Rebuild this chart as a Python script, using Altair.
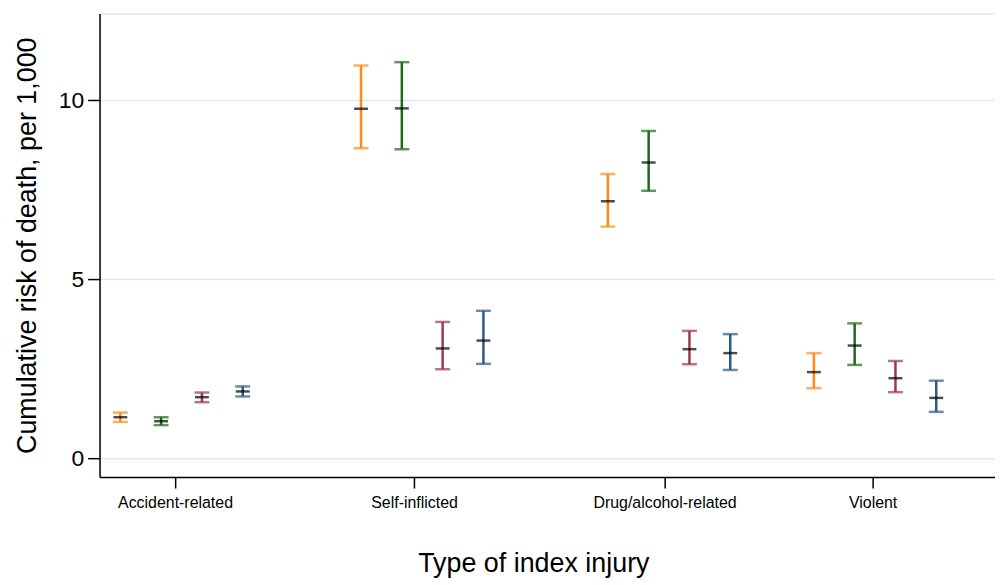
import altair as alt
import pandas as pd

# ---- data ----
groups = ["Accident-related", "Self-inflicted", "Drug/alcohol-related", "Violent"]
group_start = [1.0, 6.9, 12.95, 18.0]          # x position of first series in each group
group_tick = [2.34, 8.20, 14.34, 19.44]         # x positions of the category tick labels
series = ["Series 1", "Series 2", "Series 3", "Series 4"]
series_offset = [0, 1, 2, 3]
colors = ["#FF8A14", "#1B6B1B", "#9B3A4C", "#2C5A8A"]

est = [
    [1.15, 1.04, 1.71, 1.87],
    [9.76, 9.77, 3.07, 3.29],
    [7.18, 8.26, 3.05, 2.94],
    [2.41, 3.15, 2.24, 1.69],
]
lo = [
    [1.02, 0.93, 1.57, 1.73],
    [8.66, 8.63, 2.49, 2.64],
    [6.47, 7.47, 2.63, 2.47],
    [1.96, 2.61, 1.85, 1.30],
]
hi = [
    [1.28, 1.15, 1.84, 2.01],
    [10.97, 11.06, 3.81, 4.12],
    [7.94, 9.14, 3.56, 3.47],
    [2.94, 3.77, 2.72, 2.17],
]

rows = []
for gi, g in enumerate(groups):
    for si, s in enumerate(series):
        rows.append({
            "group": g,
            "series": s,
            "pos": group_start[gi] + series_offset[si],
            "est": est[gi][si],
            "lo": lo[gi][si],
            "hi": hi[gi][si],
        })
df = pd.DataFrame(rows)

label_expr = "[" + ",".join("'%s'" % g for g in groups) + "][indexof([" + \
    ",".join(str(t) for t in group_tick) + "], datum.value)]"

FONT = "Liberation Sans"

x_enc = alt.X(
    "pos:Q",
    scale=alt.Scale(domain=[0.49, 22.44], nice=False, zero=False),
    axis=alt.Axis(
        values=group_tick,
        labelExpr=label_expr,
        title="Type of index injury",
        grid=False,
        domainColor="#000000",
        domainWidth=1.5,
        tickColor="#000000",
        tickWidth=1.5,
        tickSize=11,
        labelPadding=7,
        labelFontSize=16,
        labelColor="#000000",
        labelFont=FONT,
        labelFlush=False,
        titleFont=FONT,
        titleFontSize=27,
        titleFontWeight="normal",
        titleColor="#000000",
        titleX=436,
        titleY=95,
        titleBaseline="alphabetic",
    ),
)

y_scale = alt.Scale(domain=[-0.52, 12.42], nice=False, zero=False)
y_axis = alt.Axis(
    values=[0, 5, 10],
    title="Cumulative risk of death, per 1,000",
    grid=True,
    gridColor="#E6E6E6",
    gridWidth=1.5,
    domainColor="#000000",
    domainWidth=1.5,
    tickColor="#000000",
    tickWidth=1.5,
    tickSize=12,
    labelPadding=4,
    labelFontSize=23,
    labelColor="#000000",
    labelFont=FONT,
    titleFont=FONT,
    titleFontSize=27,
    titleFontWeight="normal",
    titleColor="#000000",
    titleX=-64,
    titleBaseline="alphabetic",
)

color_enc = alt.Color("series:N", scale=alt.Scale(domain=series, range=colors), legend=None)

base = alt.Chart(df)

rule = base.mark_rule(strokeWidth=2.5).encode(
    x=x_enc,
    y=alt.Y("lo:Q", scale=y_scale, axis=y_axis),
    y2="hi:Q",
    color=color_enc,
)
cap_lo = base.mark_tick(orient="horizontal", size=15, thickness=2.5).encode(
    x="pos:Q", y="lo:Q", color=color_enc
)
cap_hi = base.mark_tick(orient="horizontal", size=15, thickness=2.5).encode(
    x="pos:Q", y="hi:Q", color=color_enc
)
point = base.mark_tick(orient="horizontal", size=14, thickness=2.5, color="#000000").encode(
    x="pos:Q", y="est:Q"
)

chart = alt.layer(rule, cap_lo, cap_hi, point).properties(
    width=900,
    height=466,
    autosize=alt.AutoSizeParams(type="none"),
    padding={"left": 92, "top": 4, "right": 0, "bottom": 106},
).configure_view(stroke=None).configure(background="#FFFFFF")

chart.save("out.html", embed_options={"renderer": "svg", "actions": False})
